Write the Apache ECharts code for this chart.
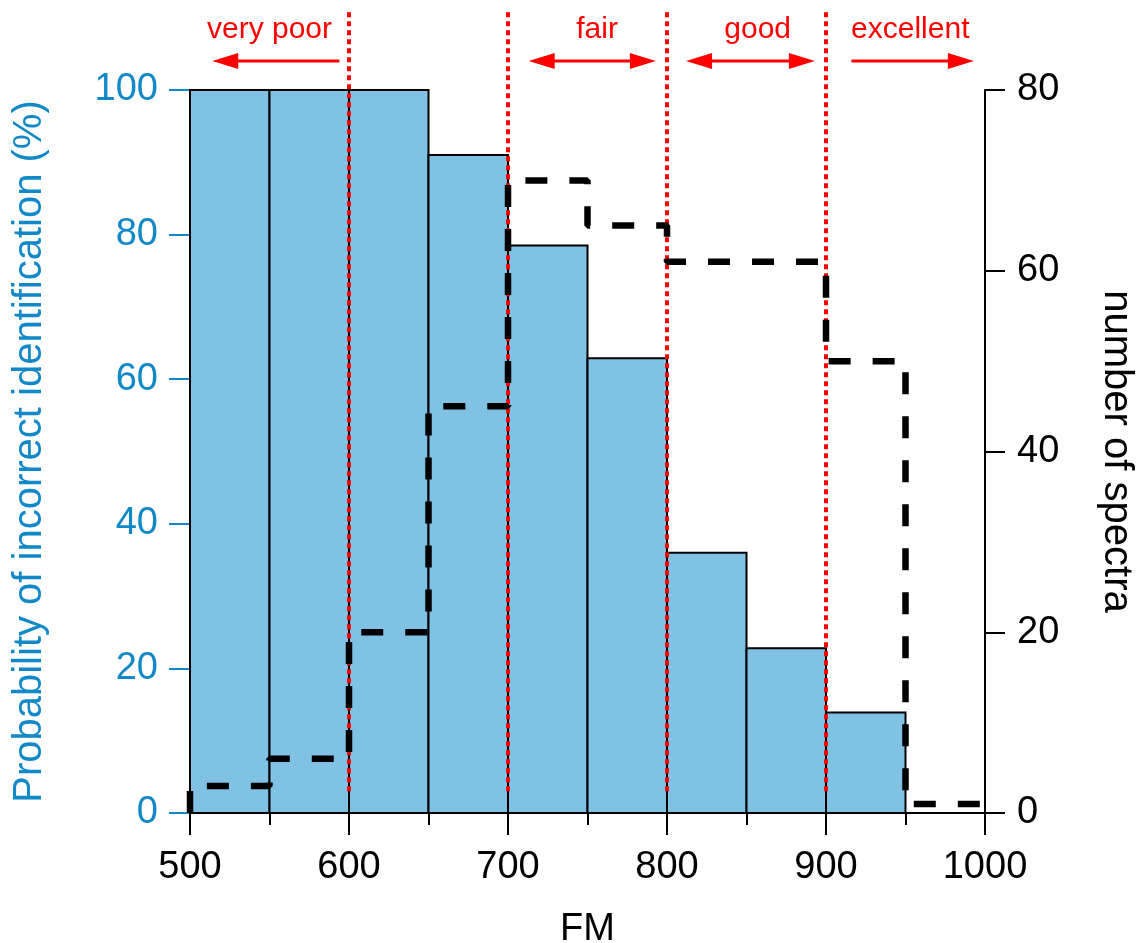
<!DOCTYPE html>
<html>
<head>
<meta charset="utf-8">
<script src="https://cdn.jsdelivr.net/npm/echarts@6/dist/echarts.min.js"></script>
<style>
  html, body { margin: 0; padding: 0; background: #fff; }
  #main { width: 1138px; height: 943px; }
</style>
</head>
<body>
<div id="main"></div>
<script>
// histogram bins (FM) and probability of incorrect identification (%)
var binStart = [500, 550, 600, 650, 700, 750, 800, 850, 900];
var binEnd = [550, 600, 650, 700, 750, 800, 850, 900, 950];
var probIncorrect = [100, 100, 100, 91, 78.5, 62.9, 36, 22.8, 13.9];

// number of spectra, drawn as a step outline
var stepX = [500, 500, 550, 600, 650, 700, 750, 800, 850, 900, 950, 1000];
var spectraCount = [0, 3, 6, 20, 45, 70, 65, 61, 61, 50, 1, 1];

// quality zones
var zoneEdges = [600, 700, 800, 900];
var zoneLabels = ['very poor', 'fair', 'good', 'excellent'];
var zoneLabelX = [550, 756, 857, 953];
var arrowLeft = [514, 713, 812, 916];
var arrowRight = [594, 793, 893, 993];
var headLeft = [true, true, true, false];
var headRight = [false, true, true, true];

var FONT = "'Liberation Sans', Arial, sans-serif";
var BLUE = '#1189c9';
var RED = '#ff0000';
// annotation heights, in left-axis units (drawn above the plot area)
var LINE_BOTTOM = 3, LINE_TOP = 110.8, ARROW_Y = 104, TEXT_Y = 108.3;

var myChart = echarts.init(document.getElementById('main'));

var barData = binStart.map(function (s, i) { return [s, binEnd[i], probIncorrect[i]]; });
var stepData = stepX.map(function (x, i) { return [x, spectraCount[i]]; });
var edgeData = zoneEdges.map(function (x) { return [x]; });
var zoneData = zoneLabels.map(function (t, i) {
  return [zoneLabelX[i], arrowLeft[i], arrowRight[i], headLeft[i] ? 1 : 0, headRight[i] ? 1 : 0];
});

function arrowHead(tip, dir) {
  var len = 26, half = 8;
  return {
    type: 'polygon',
    shape: { points: [tip, [tip[0] - dir * len, tip[1] - half], [tip[0] - dir * len, tip[1] + half]] },
    style: { fill: RED }
  };
}

var option = {
  animation: false,
  backgroundColor: '#fff',
  grid: { left: 190, right: 153, top: 90, bottom: 130, outerBoundsMode: 'none', containLabel: false },
  xAxis: {
    type: 'value',
    min: 500, max: 1000, interval: 100,
    name: 'FM', nameLocation: 'middle', nameGap: 98,
    nameTextStyle: { fontFamily: FONT, fontSize: 38, color: '#000' },
    axisLine: { show: true, lineStyle: { color: '#000', width: 2 } },
    axisTick: { show: true, length: 22, lineStyle: { color: '#000', width: 2 } },
    minorTick: { show: true, splitNumber: 2, length: 12, lineStyle: { color: '#000', width: 2 } },
    axisLabel: { fontFamily: FONT, fontSize: 38, color: '#000', margin: 36, formatter: function (v) { return String(v); } },
    splitLine: { show: false }
  },
  yAxis: [
    {
      type: 'value',
      min: 0, max: 100, interval: 20,
      name: 'Probability of incorrect identification (%)',
      nameLocation: 'middle', nameGap: 140,
      nameTextStyle: { fontFamily: FONT, fontSize: 40, color: BLUE },
      axisLine: { show: false },
      axisTick: { show: true, length: 21, lineStyle: { color: BLUE, width: 2 } },
      axisLabel: { fontFamily: FONT, fontSize: 38, color: BLUE, margin: 32 },
      splitLine: { show: false }
    },
    {
      type: 'value',
      min: 0, max: 80, interval: 20,
      position: 'right',
      name: 'number of spectra',
      nameLocation: 'middle', nameGap: 111, nameRotate: -90,
      nameTextStyle: { fontFamily: FONT, fontSize: 40, color: '#000' },
      axisLine: { show: true, lineStyle: { color: '#000', width: 2 } },
      axisTick: { show: true, length: 20, lineStyle: { color: '#000', width: 2 } },
      axisLabel: { fontFamily: FONT, fontSize: 38, color: '#000', margin: 32 },
      splitLine: { show: false }
    }
  ],
  series: [
    {
      type: 'custom',
      name: 'probability',
      xAxisIndex: 0, yAxisIndex: 0,
      z: 2,
      data: barData,
      encode: { x: [0, 1], y: 2 },
      renderItem: function (params, api) {
        var p0 = api.coord([api.value(0), 0]);
        var p1 = api.coord([api.value(1), api.value(2)]);
        return {
          type: 'rect',
          shape: { x: p0[0], y: p1[1], width: p1[0] - p0[0], height: p0[1] - p1[1] },
          style: { fill: '#80c2e4', stroke: '#000', lineWidth: 2 }
        };
      }
    },
    {
      type: 'custom',
      name: 'zone edges',
      xAxisIndex: 0, yAxisIndex: 0,
      z: 4,
      clip: false,
      data: edgeData,
      encode: { x: 0 },
      renderItem: function (params, api) {
        var a = api.coord([api.value(0), LINE_BOTTOM]);
        var b = api.coord([api.value(0), LINE_TOP]);
        return {
          type: 'line',
          shape: { x1: a[0], y1: a[1], x2: b[0], y2: b[1] },
          style: { stroke: RED, lineWidth: 4, lineDash: [5, 4] }
        };
      }
    },
    {
      type: 'line',
      name: 'number of spectra',
      xAxisIndex: 0, yAxisIndex: 1,
      z: 5,
      step: 'end',
      showSymbol: false,
      data: stepData,
      lineStyle: { color: '#000', width: 6.5, type: [22, 22] }
    },
    {
      type: 'custom',
      name: 'zones',
      xAxisIndex: 0, yAxisIndex: 0,
      z: 6,
      clip: false,
      data: zoneData,
      encode: { x: 0 },
      renderItem: function (params, api) {
        var i = params.dataIndex;
        var t = api.coord([api.value(0), TEXT_Y]);
        var l = api.coord([api.value(1), ARROW_Y]);
        var r = api.coord([api.value(2), ARROW_Y]);
        var children = [
          {
            type: 'text',
            style: {
              x: t[0], y: t[1], text: zoneLabels[i],
              fill: RED, font: '30px ' + FONT,
              textAlign: 'center', textVerticalAlign: 'middle'
            }
          },
          {
            type: 'line',
            shape: {
              x1: l[0] + (api.value(3) ? 20 : 0), y1: l[1],
              x2: r[0] - (api.value(4) ? 20 : 0), y2: r[1]
            },
            style: { stroke: RED, lineWidth: 3 }
          }
        ];
        if (api.value(3)) children.push(arrowHead(l, -1));
        if (api.value(4)) children.push(arrowHead(r, 1));
        return { type: 'group', children: children };
      }
    }
  ]
};

myChart.setOption(option);
</script>
</body>
</html>
